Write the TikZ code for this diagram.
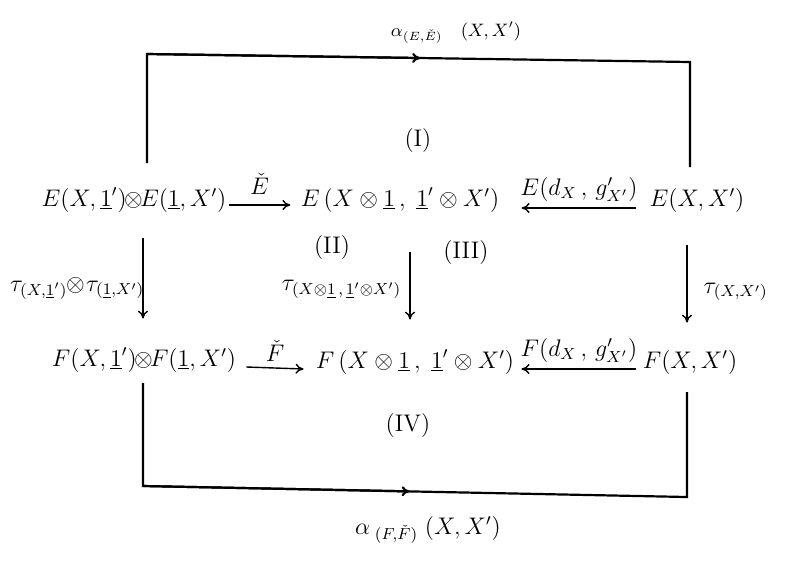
\documentclass[tikz,border=0pt]{standalone}
\usetikzlibrary{calc,arrows.meta}
\begin{document}
\begin{tikzpicture}[x=0.5pt,y=-0.5pt,
  font=\fontsize{12}{14}\selectfont,
  obj/.style={inner sep=0pt, anchor=center},
  lbl/.style={inner sep=0pt},
  ar/.style={-{To[length=4pt,width=5pt]}, line width=0.7pt},
  frame/.style={line width=1.1pt, line join=miter},
  midtip/.style={-{To[length=4pt,width=5pt]}, line width=1.1pt}]
\useasboundingbox (0,0) rectangle (802,574);

% objects
\node[obj] (A)  at (134,200) {$E(X,\underline{1}')\mkern-2mu{\otimes}\mkern-2mu E(\underline{1},X')$};
\node[obj] (B)  at (400,200) {$E\,(X\otimes\underline{1}\,,\;\underline{1}'\otimes X')$};
\node[obj] (C)  at (697,200) {$E(X,X')$};
\node[obj] (D)  at (144,360) {$F(X,\underline{1}')\mkern-2mu{\otimes}\mkern-2mu F(\underline{1},X')$};
\node[obj] (Ee) at (415,362) {$F\,(X\otimes\underline{1}\,,\;\underline{1}'\otimes X')$};
\node[obj] (Ff) at (690,362) {$F(X,X')$};

% horizontal arrows
\draw[ar] ($(A.east)+(2,5)$) -- ($(B.west)+(-10,5)$)
  node[midway, above=5pt, lbl] (lEc) {$\check{E}$};
\draw[ar] ($(C.west)+(-13,8)$) -- ($(B.east)+(22,8)$)
  node[midway, above=3pt, lbl] (lEd) {$E(d_X\,,\,g'_{X'})$};
\draw[ar] ($(D.east)+(10,7)$) -- ($(Ee.west)+(-12,7)$)
  node[midway, above=3pt, lbl] (lFc) {$\check{F}$};
\draw[ar] ($(Ff.west)+(-6,7)$) -- ($(Ee.east)+(7,7)$)
  node[midway, above=3pt, lbl] (lFd) {$F(d_X\,,\,g'_{X'})$};

% vertical arrows
\coordinate (vl) at (143,0);
\coordinate (vm) at (410,0);
\coordinate (vr) at (687,0);
\draw[ar] ($(A.south -| vl)+(0,26)$) -- ($(D.north -| vl)+(0,-29)$)
  node[pos=0.62, left=-1pt, lbl] (lt1) {$\tau_{(X,\underline{1}')}\mkern-1mu{\otimes}\mkern1mu\tau_{(\underline{1},X')}$};
\draw[ar] ($(B.south -| vm)+(0,40)$) -- ($(Ee.north -| vm)+(0,-30)$)
  node[pos=0.55, left=4pt, lbl] (lt2) {$\tau_{(X\otimes\underline{1}\,,\,\underline{1}'\otimes X')}$};
\draw[ar] ($(C.south -| vr)+(0,33)$) -- ($(Ff.north -| vr)+(0,-27)$)
  node[pos=0.6, right=8pt, lbl] (lt3) {$\tau_{(X,X')}$};

% outer frames
\coordinate (tla) at (147,163);
\coordinate (tl)  at (147,54);
\coordinate (tr)  at (690,62);
\coordinate (tra) at (690,167);
\draw[frame] (tla) -- (tl) -- (tr) -- (tra);
\draw[midtip] (tl) -- ($(tl)!0.503!(tr)$);
\node[lbl, font=\fontsize{9}{10}\selectfont] (la) at (456,33)
  {$\alpha_{(E,\check{E})}\hspace*{9pt}(X,X')$};

\coordinate (bla) at (143,383);
\coordinate (bl)  at (143,486);
\coordinate (br)  at (687,497);
\coordinate (bra) at (687,392);
\draw[frame] (bla) -- (bl) -- (br) -- (bra);
\draw[midtip] (bl) -- ($(bl)!0.49!(br)$);
\node[lbl] (lb) at (428,530)
  {$\alpha_{\;(F,\check{F})}\;(X,X')$};

% region labels
\node[lbl] (r1) at (418,140) {$(\mathrm{I})$};
\node[lbl] (r2) at (332,247) {$(\mathrm{II})$};
\node[lbl] (r3) at (466,252) {$(\mathrm{III})$};
\node[lbl] (r4) at (408,425) {$(\mathrm{IV})$};
\end{tikzpicture}
\end{document}
